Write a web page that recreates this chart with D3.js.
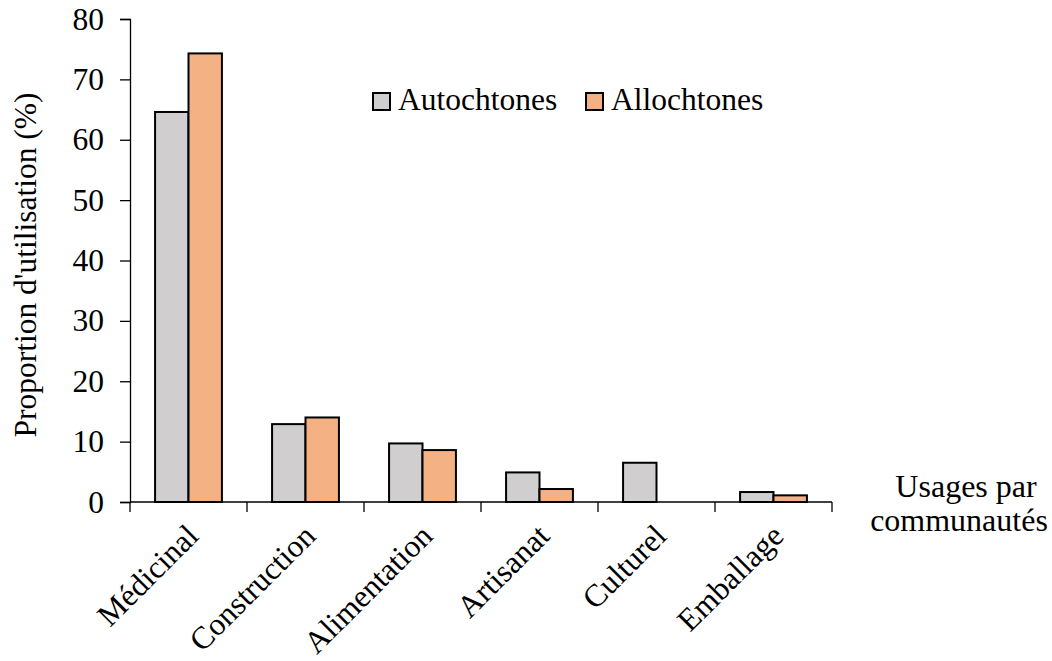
<!DOCTYPE html>
<html><head><meta charset="utf-8">
<script src="https://cdn.jsdelivr.net/npm/d3@7"></script>
<style>body{margin:0;background:#fff}text{font-family:"Liberation Serif","Times New Roman",serif;fill:#000}</style>
</head><body><svg id="c" width="1052" height="661"></svg>
<script>
const categories = ["Médicinal","Construction","Alimentation","Artisanat","Culturel","Emballage"];
const seriesNames = ["Autochtones","Allochtones"];
const autochtones = [64.6, 12.9, 9.7, 4.9, 6.5, 1.65];
const allochtones = [74.3, 14.0, 8.6, 2.15, 0, 1.1];
const yTicks = [0,10,20,30,40,50,60,70,80];
const colors = ["#D0CECE","#F4B183"];

(function(){
const svg = d3.select("#c");
const fs = "31.5px";
const mLeft = 130, mRight = 832, mTop = 19, mBottom = 502;
const x = d3.scaleBand().domain(categories).range([mLeft, mRight]).paddingInner(0).paddingOuter(0);
const inner = d3.scaleBand().domain(seriesNames).range([0, x.bandwidth()]).paddingInner(0).paddingOuter(0.75);
const y = d3.scaleLinear().domain([0,80]).range([mBottom, mTop]);

const data = [autochtones, allochtones];
data.forEach((vals, si) => {
  svg.append("g").selectAll("rect").data(vals.map((v,i)=>({v,c:categories[i]})).filter(d=>d.v>0))
    .join("rect")
    .attr("x", d => x(d.c) + inner(seriesNames[si]))
    .attr("width", inner.bandwidth())
    .attr("y", d => y(d.v))
    .attr("height", d => y(0) - y(d.v))
    .attr("fill", colors[si]).attr("stroke", "#000").attr("stroke-width", 2);
});

const ya = svg.append("g").attr("transform", `translate(${mLeft},0)`)
  .call(d3.axisLeft(y).tickValues(yTicks).tickSize(10).tickPadding(16));
ya.select(".domain").attr("stroke","#000").attr("stroke-width",1.3);
ya.selectAll(".tick line").attr("stroke","#000").attr("stroke-width",1.3);
ya.selectAll("text").style("font-size",fs);

const xa = svg.append("g").attr("transform", `translate(0,${mBottom})`);
xa.append("line").attr("x1", mLeft).attr("x2", mRight).attr("stroke","#000").attr("stroke-width",1.3);
const tickPos = categories.map(c => x(c)).concat([mRight]);
xa.selectAll("line.t").data(tickPos).join("line").attr("class","t")
  .attr("x1", d=>d).attr("x2", d=>d).attr("y1",0).attr("y2",10).attr("stroke","#000").attr("stroke-width",1.3);
xa.selectAll("text.cl").data(categories).join("text").attr("class","cl")
  .attr("transform", d => `translate(${x(d) + x.bandwidth()/2 + 4},${28}) rotate(-45)`)
  .attr("text-anchor","end").attr("dy","0.35em")
  .style("font-size",fs).text(d=>d);

svg.append("text").attr("transform","translate(36,265) rotate(-90)").attr("text-anchor","middle")
  .style("font-size",fs).text("Proportion d'utilisation (%)");

svg.append("text").attr("x",966).attr("y",497).attr("text-anchor","middle").style("font-size","32px").text("Usages par");
svg.append("text").attr("x",959).attr("y",531).attr("text-anchor","middle").style("font-size","32px").text("communautés");

const legX = [373, 586];
seriesNames.forEach((n,i) => {
  svg.append("rect").attr("x", legX[i]).attr("y", 93).attr("width",17).attr("height",17)
    .attr("fill", colors[i]).attr("stroke","#000").attr("stroke-width",2);
  svg.append("text").attr("x", legX[i]+25).attr("y", 110).style("font-size",fs).text(n);
});
})();
</script></body></html>
